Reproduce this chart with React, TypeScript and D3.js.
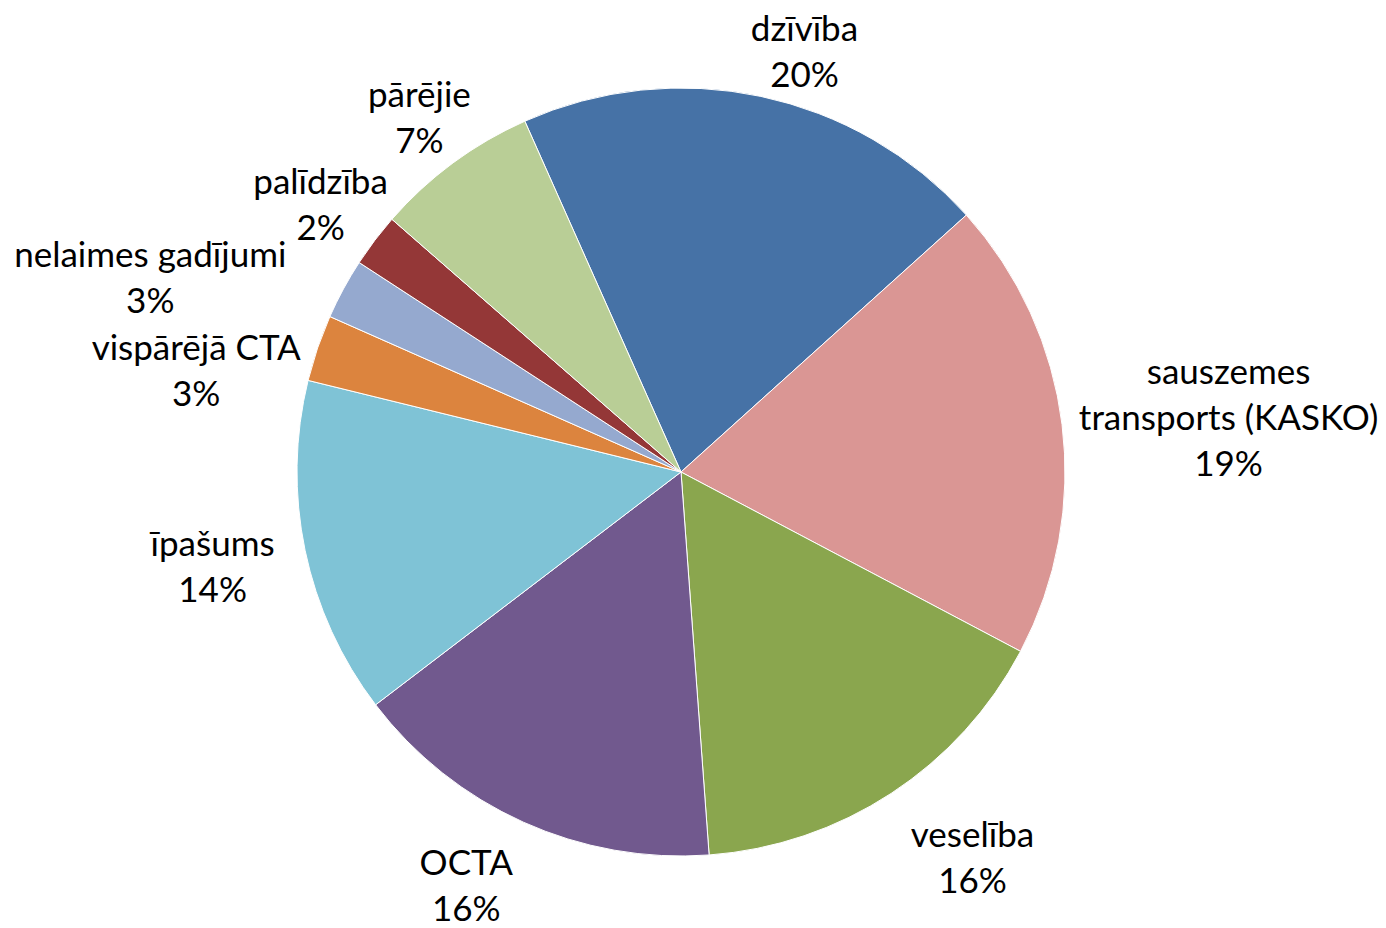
import React, { useEffect, useRef } from 'react'
import { select, pie, arc, sum } from 'd3'

// slices, clockwise from the top-left
const categories = [
    'dzīvība',
    'sauszemes\ntransports (KASKO)',
    'veselība',
    'OCTA',
    'īpašums',
    'vispārējā CTA',
    'nelaimes gadījumi',
    'palīdzība',
    'pārējie',
]
const values = [20.0, 19.4, 16.1, 15.8, 14.2, 2.8, 2.55, 2.25, 6.9]
const colors = [
    '#4672a6',
    '#da9694',
    '#8aa64e',
    '#71598e',
    '#7fc3d6',
    '#dc843e',
    '#95a9cf',
    '#943737',
    '#b9ce96',
]

// label tweaks (px) on top of the outside placement
const labelNudge = [
    [30, 10],
    [6, 1],
    [41, 14],
    [-33, 9],
    [-20, 3],
    [-11, 40],
    [-63, 15],
    [9, -2],
    [4, 0],
]

const width = 1386
const height = 928
const cx = 681
const cy = 472
const radius = 384
const startAngle = (-24 * Math.PI) / 180
const fontSize = 35
const lineHeight = 46
const labelGap = 12

function App() {
    const svgRef = useRef<SVGSVGElement>(null)

    useEffect(() => {
        document.body.style.margin = '0'
        const svg = select(svgRef.current)
        svg.selectAll('*').remove()

        const total = sum(values)
        const arcs = pie<number>()
            .sort(null)
            .startAngle(startAngle)
            .endAngle(startAngle + 2 * Math.PI)(values)

        const arcGen = arc<any>().innerRadius(0).outerRadius(radius)

        const g = svg.append('g').attr('transform', `translate(${cx}, ${cy})`)

        g.selectAll('path')
            .data(arcs)
            .join('path')
            .attr('d', arcGen)
            .attr('fill', (d, i) => colors[i])
            .attr('stroke', '#fff')
            .attr('stroke-width', 1)

        arcs.forEach((d, i) => {
            const lines = categories[i].split('\n')
            lines.push(`${Math.round((values[i] / total) * 100)}%`)

            const text = g
                .append('text')
                .attr('text-anchor', 'middle')
                .attr('dominant-baseline', 'central')
                .attr('font-family', 'Lato, "Open Sans", sans-serif')
                .attr('font-size', fontSize)
                .attr('fill', '#000')

            const spans = lines.map(l => text.append('tspan').text(l))
            const w = Math.max(...spans.map(s => (s.node() as SVGTSpanElement).getComputedTextLength()))
            const h = lines.length * lineHeight

            const a = (d.startAngle + d.endAngle) / 2
            const r = radius + labelGap
            const ax = Math.sin(a) * r
            const ay = -Math.cos(a) * r
            const bx = ax + (Math.sin(a) * w) / 2 + labelNudge[i][0]
            const by = ay - (Math.cos(a) * h) / 2 + labelNudge[i][1]

            spans.forEach((s, k) => {
                s.attr('x', bx).attr('y', by - h / 2 + lineHeight * (k + 0.5))
            })
        })
    }, [])

    return <svg ref={svgRef} width={width} height={height} style={{ display: 'block' }}></svg>
}

export default App
